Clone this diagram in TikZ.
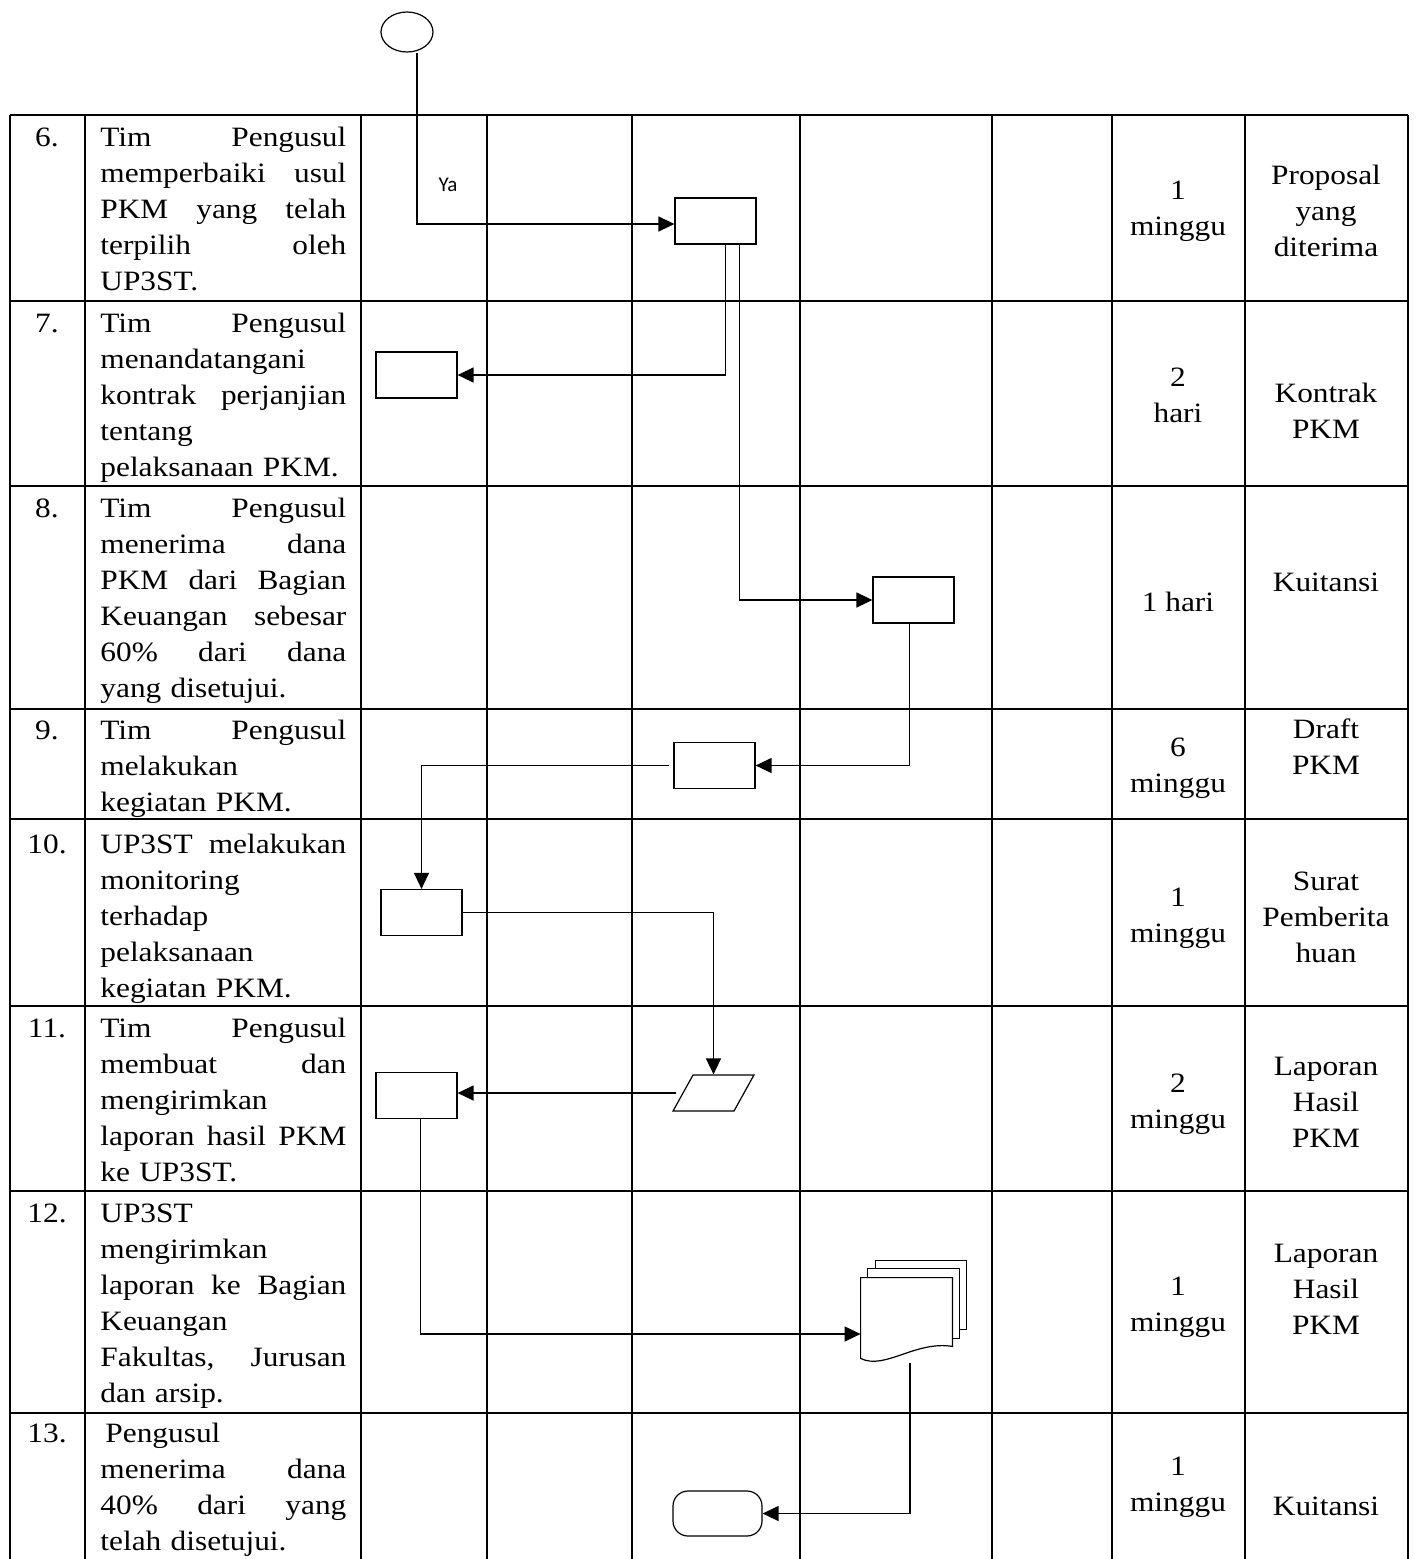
\documentclass[tikz,border=0pt]{standalone}
\usepackage{fontspec}
\setmainfont{Liberation Serif}[FakeStretch=1.12]
\newfontfamily\yafont{Carlito}
\usetikzlibrary{shapes.geometric,arrows.meta,calc}
\newlength\descw
\setlength\descw{123pt}
\newcommand\jl[1]{\leavevmode\hbox to \descw{#1}}

\begin{document}
\begin{tikzpicture}[x=0.5pt,y=-0.5pt,
  every node/.style={font=\fontsize{14pt}{18pt}\selectfont},
  grid/.style={line width=0.85pt},
  num/.style={anchor=base,inner sep=0pt},
  desc/.style={anchor=base west,text width=\descw,align=left,inner sep=0pt},
  cell/.style={align=center,inner sep=0pt},
  proc/.style={rectangle,draw,line width=0.6pt,minimum width=40.5pt,minimum height=23pt,inner sep=0pt},
  io/.style={trapezium,trapezium left angle=61,trapezium right angle=119,draw,line width=0.6pt,inner sep=0pt},
  term/.style={rectangle,rounded corners=7.5pt,draw,line width=0.6pt,minimum width=44.5pt,minimum height=22.5pt,inner sep=0pt},
  conn/.style={ellipse,draw,line width=0.6pt,minimum width=26pt,minimum height=20pt,inner sep=0pt},
  page/.style={draw,line width=0.6pt,fill=white},
  flow/.style={line width=0.65pt,-{Triangle[length=8pt,width=7.5pt]}},
]
\useasboundingbox (0,0) rectangle (1416,1559);

% TABLE GRID
\foreach \r in {115,301,486,709,819,1006,1191,1413}
  \draw[grid] (10,\r) -- (1408,\r);
\foreach \c in {10,85,361,487,632,800,992,1112,1245,1408}
  \draw[grid] (\c,115) -- (\c,1559);

% STEP NUMBERS
\node[num] (n6) at (47,146) {6.};
\node[num] (n7) at (47,332) {7.};
\node[num] (n8) at (47,517) {8.};
\node[num] (n9) at (47,739) {9.};
\node[num] (n10) at (47,853) {10.};
\node[num] (n11) at (47,1037) {11.};
\node[num] (n12) at (47,1222) {12.};
\node[num] (n13) at (47,1442) {13.};

% STEP DESCRIPTIONS
\node[desc] (d6) at (100,146) {\jl{Tim\hfill Pengusul}\\\jl{memperbaiki\hfill usul}\\\jl{PKM\hfill yang\hfill telah}\\\jl{terpilih\hfill oleh}\\UP3ST.};
\node[desc] (d7) at (100,332) {\jl{Tim\hfill Pengusul}\\menandatangani\\\jl{kontrak\hfill perjanjian}\\tentang\\pelaksanaan PKM.};
\node[desc] (d8) at (100,517) {\jl{Tim\hfill Pengusul}\\\jl{menerima\hfill dana}\\\jl{PKM\hfill dari\hfill Bagian}\\\jl{Keuangan\hfill sebesar}\\\jl{60\%\hfill dari\hfill dana}\\yang disetujui.};
\node[desc] (d9) at (100,739) {\jl{Tim\hfill Pengusul}\\melakukan\\kegiatan PKM.};
\node[desc] (d10) at (100,853) {\jl{UP3ST\hfill melakukan}\\monitoring\\terhadap\\pelaksanaan\\kegiatan PKM.};
\node[desc] (d11) at (100,1037) {\jl{Tim\hfill Pengusul}\\\jl{membuat\hfill dan}\\mengirimkan\\\jl{laporan\hfill hasil\hfill PKM}\\ke UP3ST.};
\node[desc] (d12) at (100,1222) {UP3ST\\mengirimkan\\\jl{laporan\hfill ke\hfill Bagian}\\Keuangan\\\jl{Fakultas,\hfill Jurusan}\\dan arsip.};
\node[desc] (d13) at (100,1442) {\hspace*{2.5pt}Pengusul\\\jl{menerima\hfill dana}\\\jl{40\%\hfill dari\hfill yang}\\telah disetujui.};

% DURATION + OUTPUT
\node[cell] (t6) at (1178,211) {1\\minggu};
\node[cell] (o6) at (1326,211) {Proposal\\yang\\diterima};
\node[cell] (t7) at (1178,395) {2\\hari};
\node[cell] (o7) at (1326,411) {Kontrak\\PKM};
\node[cell] (t8) at (1178,602) {1 hari};
\node[cell] (o8) at (1326,582) {Kuitansi};
\node[cell] (t9) at (1178,768) {6\\minggu};
\node[cell] (o9) at (1326,747) {Draft\\PKM};
\node[cell] (t10) at (1178,918) {1\\minggu};
\node[cell] (o10) at (1326,917) {Surat\\Pemberita\\huan};
\node[cell] (t11) at (1178,1104) {2\\minggu};
\node[cell] (o11) at (1326,1102) {Laporan\\Hasil\\PKM};
\node[cell] (t12) at (1178,1307) {1\\minggu};
\node[cell] (o12) at (1326,1289) {Laporan\\Hasil\\PKM};
\node[cell] (t13) at (1178,1487) {1\\minggu};
\node[cell] (o13) at (1326,1506) {Kuitansi};

% FLOW SYMBOLS
\node[conn] (start) at (407,32) {};
\node[font=\yafont\fontsize{10.5pt}{12pt}\selectfont] (ya) at (448,185) {Ya};
\node[proc] (revise) at (715.5,221) {};
\node[proc] (contract) at (416.5,375) {};
\node[proc] (fund) at (913.5,600) {};
\node[proc] (activity) at (714.5,765.5) {};
\node[proc] (monitor) at (421.5,912.5) {};
\node[io] (send) at (713.5,1093) {\hspace*{20.5pt}\rule{0pt}{18pt}};
\node[proc] (report) at (416.5,1095.5) {};
\node[term] (done) at (717.5,1513.5) {};

% multi-document (front page as node)
\node[minimum width=45.5pt,minimum height=40pt,inner sep=0pt] (archive) at (906.5,1318) {};
\draw[page] ([shift={(15,-17)}]archive.north west) rectangle ([shift={(14,-29)}]archive.south east);
\draw[page] ([shift={(7,-9)}]archive.north west) rectangle ([shift={(7,-20)}]archive.south east);
\draw[page] (archive.south west) -- (archive.north west) -- (archive.north east)
  -- ([shift={(0,-12)}]archive.south east) .. controls +(-37,-6) and +(24,12) .. (archive.south west) -- cycle;

% CONNECTORS
\draw[flow] ([xshift=5pt]start.south) |- ([yshift=-1.5pt]revise.west);
\draw[flow] ([xshift=5pt]revise.south) |- (contract.east);
\draw[flow] ([xshift=12pt]revise.south) |- (fund.west);
\draw[flow] ([xshift=-2pt]fund.south) |- (activity.east);
\draw[flow] ([xshift=-2pt]activity.west) -| (monitor.north);
\draw[flow] (monitor.east) -| (send.north);
\draw[flow] ([xshift=-3pt]send.west) -- (send.west -| report.east);
\draw[flow] ([xshift=2pt]report.south) |- ([yshift=-8pt]archive.west);
\draw[flow] ([shift={(3.5,5)}]archive.south) |- (done.east);
\end{tikzpicture}
\end{document}
